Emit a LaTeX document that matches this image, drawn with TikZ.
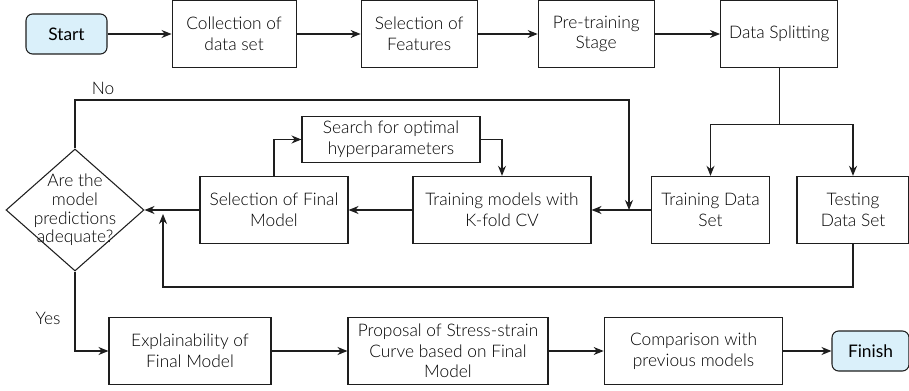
\documentclass[tikz,border=0pt]{standalone}
\usepackage{fontspec}
\setmainfont{Lato Light}[BoldFont=Lato]
\usepackage{xcolor}
\usetikzlibrary{arrows.meta,positioning,shapes.geometric}
\definecolor{termfill}{RGB}{218,240,250}
\definecolor{linegray}{RGB}{30,30,30}

\begin{document}
\begin{tikzpicture}[
  x=0.75pt, y=-0.75pt,
  font=\fontsize{13}{15.5}\selectfont,
  >={Stealth[length=7.5pt,width=6pt]},
  box/.style={
    draw=linegray,
    align=center,
    inner sep=2pt,
    minimum height=50.5pt,
    line width=0.8pt
  },
  term/.style={box, rounded corners=5pt, fill=termfill,
    minimum width=60.75pt, minimum height=30pt,
    font=\fontsize{13}{15.5}\selectfont\bfseries},
  decision/.style={draw=linegray, diamond, line width=0.8pt, inner sep=0pt,
    minimum width=103.5pt, minimum height=91.5pt},
  arrow/.style={->, draw=linegray, line width=0.8pt}
]
  \useasboundingbox (0,0) rectangle (909,391);
  % top row
  \node[term] (start) at (66.5,34) {Start};
  \node[box, minimum width=93pt, right=48pt of start] (collect) {Collection of\\data set};
  \node[box, minimum width=87pt, right=48pt of collect] (feat) {Selection of\\Features};
  \node[box, minimum width=87pt, right=45pt of feat] (pretrain) {Pre-training\\Stage};
  \node[box, minimum width=88pt, right=49pt of pretrain] (split) {Data Splitting};
  % middle row
  \node[box, minimum width=89pt] (trdata) at (710.5,210) {Training Data\\Set};
  \node[box, minimum width=84pt] (tsdata) at (853,210) {Testing\\Data Set};
  \node[box, minimum width=133.5pt] (kfold) at (502,210) {Training models with\\K-fold CV};
  \node[box, minimum width=111pt] (final) at (274,210) {Selection of Final\\Model};
  \node[box, minimum width=133.5pt, minimum height=35pt] (search) at (391,139.5) {Search for optimal\\hyperparameters};
  \node[decision, label={[align=center, font=\fontsize{13}{14}\selectfont]center:Are the\\model\\predictions\\adequate?}] (check) at (75,210) {};
  % bottom row
  \node[box, minimum width=121.5pt] (explain) at (190,351) {Explainability of\\Final Model};
  \node[box, minimum width=150pt] (curve) at (448,351) {Proposal of Stress-strain\\Curve based on Final\\Model};
  \node[box, minimum width=134pt] (compare) at (693.5,351) {Comparison with\\previous models};
  \node[term, minimum width=57.75pt] (finish) at (870.5,351) {Finish};
  \node (nolbl) at (103,88) {No};
  \node (yeslbl) at (48,318) {Yes};

  \draw[arrow] (start) -- (collect);
  \draw[arrow] (collect) -- (feat);
  \draw[arrow] (feat) -- (pretrain);
  \draw[arrow] (pretrain) -- (split);
  \draw[draw=linegray, line width=0.8pt] (split.south) -- ++(0,56) coordinate (fork);
  \draw[arrow] (fork) -| (trdata.north);
  \draw[arrow] (fork) -| (tsdata.north);
  \draw[arrow] (trdata) -- (kfold);
  \draw[arrow] (kfold) -- (final);
  \draw[arrow] (final.west) -- (check.east);
  \draw[arrow] (final.north) |- (search.west);
  \draw[arrow] (search.east) -| (kfold.north);
  \coordinate (noturn) at (629,100);
  \coordinate (nodrop) at (629,210);
  \draw[arrow] (check.north) |- (noturn) -- (nodrop);
  \coordinate (tsback) at (163,287);
  \coordinate (tsend) at (163,214);
  \draw[arrow] (tsdata.south) |- (tsback) -- (tsend);
  \draw[arrow] (check.south) |- (explain.west);
  \draw[arrow] (explain) -- (curve);
  \draw[arrow] (curve) -- (compare);
  \draw[arrow] (compare) -- (finish);
\end{tikzpicture}
\end{document}
